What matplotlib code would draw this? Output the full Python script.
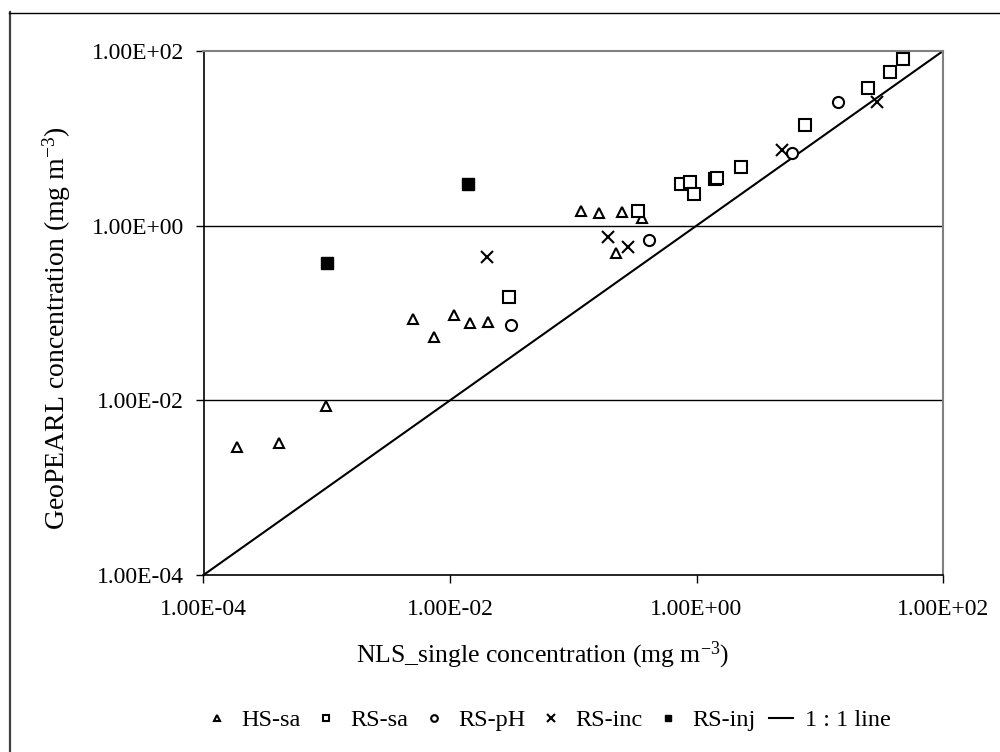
import matplotlib
matplotlib.use("Agg")
import matplotlib.pyplot as plt
from matplotlib.lines import Line2D
import numpy as np

plt.rcParams['font.family'] = ['Liberation Serif', 'DejaVu Serif']
plt.rcParams['mathtext.fontset'] = 'custom'
plt.rcParams['mathtext.rm'] = 'Liberation Serif'
plt.rcParams['mathtext.it'] = 'Liberation Serif:italic'

# ---- data (NLS_single x, GeoPEARL y), mg m-3 ----
hs_sa_x = [1.88e-4, 4.1e-4, 9.8e-4, 0.00503, 0.00747, 0.01076, 0.01445, 0.0205,
           0.1156, 0.163, 0.249, 0.363, 0.222]
hs_sa_y = [0.0029, 0.00321, 0.00868, 0.0853, 0.0535, 0.0948, 0.0762, 0.0788,
           1.485, 1.38, 1.43, 1.23, 0.49]

rs_sa_x = [0.0301, 0.333, 0.753, 0.885, 0.948, 1.40, 1.46, 2.28, 7.64, 24.8, 36.9, 47.6]
rs_sa_y = [0.151, 1.485, 3.0, 3.19, 2.32, 3.40, 3.50, 4.74, 14.2, 38.0, 57.5, 81.0]

rs_ph_x = [0.031, 0.409, 5.92, 13.97]
rs_ph_y = [0.0729, 0.685, 6.85, 26.3]

rs_inc_x = [0.0201, 0.191, 0.28, 4.91, 29.0]
rs_inc_y = [0.441, 0.748, 0.574, 7.35, 26.3]

rs_inj_x = [0.001, 0.0141]
rs_inj_y = [0.377, 2.98]

line_x = [1e-4, 1e2]
line_y = [1e-4, 1e2]

tick_vals = [1e-4, 1e-2, 1e0, 1e2]
tick_labels = ['1.00E-04', '1.00E-02', '1.00E+00', '1.00E+02']

fig = plt.figure(figsize=(10.0, 7.52), dpi=100)
ax = fig.add_axes([0.2035, 1 - 575 / 752, 0.7395, 524 / 752])

mew = 1.5
ax.plot(hs_sa_x, hs_sa_y, linestyle='none', marker='^', ms=7, mfc='white', mec='black', mew=mew,
        label='HS-sa', zorder=3)
ax.plot(rs_sa_x, rs_sa_y, linestyle='none', marker='s', ms=8, mfc='white', mec='black', mew=mew,
        label='RS-sa', zorder=3)
ax.plot(rs_ph_x, rs_ph_y, linestyle='none', marker='o', ms=8, mfc='white', mec='black', mew=mew,
        label='RS-pH', zorder=3)
ax.plot(rs_inc_x, rs_inc_y, linestyle='none', marker='x', ms=9, mec='black', mew=mew,
        label='RS-inc', zorder=3)
ax.plot(rs_inj_x, rs_inj_y, linestyle='none', marker='s', ms=8, mfc='black', mec='black', mew=1,
        label='RS-inj', zorder=3)
ax.plot(line_x, line_y, color='black', lw=1.5, label='1 : 1 line', zorder=2)

ax.set_xscale('log')
ax.set_yscale('log')
ax.set_xlim(1e-4, 1e2)
ax.set_ylim(1e-4, 1e2)
ax.set_xticks(tick_vals)
ax.set_xticklabels(tick_labels)
ax.set_yticks(tick_vals)
ax.set_yticklabels(tick_labels)
ax.minorticks_off()
ax.tick_params(axis='both', which='major', direction='out', length=6, width=1,
               labelsize=17, colors='black')
ax.tick_params(axis='x', pad=11)
ax.tick_params(axis='y', pad=8)

for y in [1e-2, 1e0]:
    ax.axhline(y, color='black', lw=1, zorder=1)

ax.spines['top'].set_color('#808080')
ax.spines['right'].set_color('#808080')
ax.spines['top'].set_linewidth(1.5)
ax.spines['right'].set_linewidth(1.5)
ax.spines['left'].set_linewidth(1.2)
ax.spines['bottom'].set_linewidth(1.2)

ax.set_xlabel('NLS_single concentration (mg m$^{\\mathrm{-3}}$)', fontsize=18.5)
ax.set_ylabel('GeoPEARL concentration (mg m$^{\\mathrm{-3}}$)', fontsize=20)
ax.xaxis.set_label_coords((543 - 203.5) / 739.5, (575 - 655) / 524)
ax.yaxis.set_label_coords((57 - 203.5) / 739.5, (575 - 328) / 524)
ax.xaxis.label.set_verticalalignment('center')
ax.yaxis.label.set_verticalalignment('center')

handles, labels = ax.get_legend_handles_labels()
leg = fig.legend(handles, labels, loc='center', bbox_to_anchor=(0.548, 1 - 720 / 752), ncol=6,
                 frameon=False, fontsize=17.5, handlelength=1.0, handletextpad=0.5,
                 columnspacing=0.55, markerscale=0.6)

# figure border (left & top visible)
fig.add_artist(Line2D([9.5 / 1000, 9.5 / 1000], [0, 1 - 12 / 752], transform=fig.transFigure,
                      color='#404040', lw=1.6))
fig.add_artist(Line2D([9 / 1000, 1], [1 - 12.5 / 752, 1 - 12.5 / 752], transform=fig.transFigure,
                      color='black', lw=1.0))

fig.savefig('out.png', dpi=100, facecolor='white')
